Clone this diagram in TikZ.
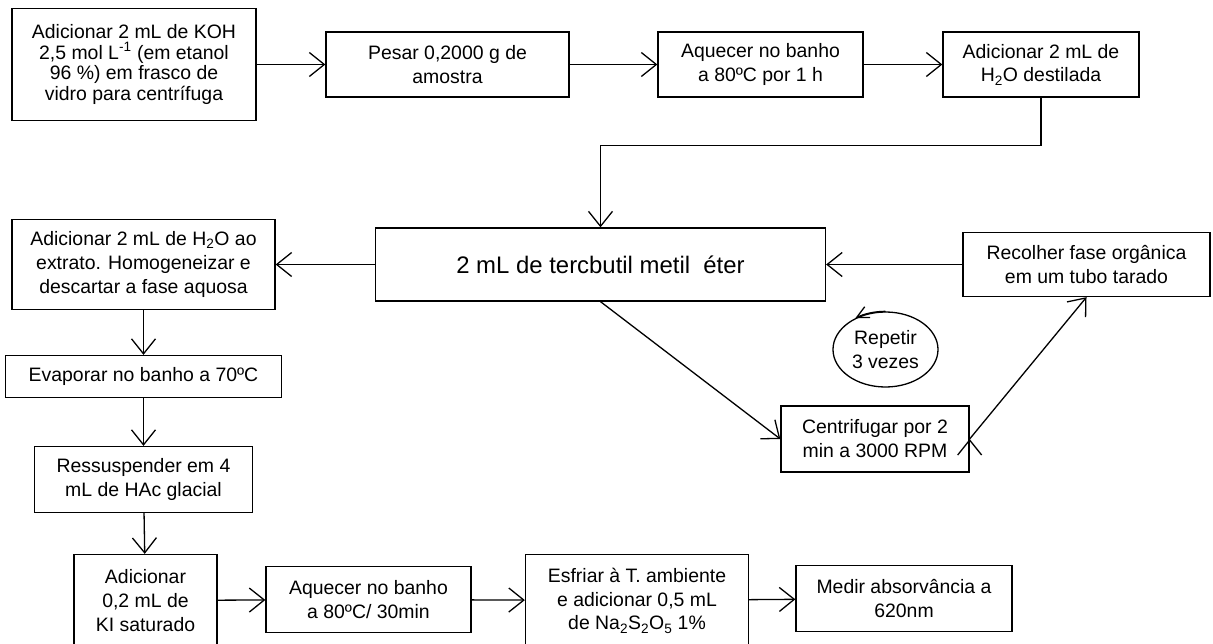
\documentclass[tikz,border=0pt]{standalone}
\usepackage{fontspec}
\setmainfont{Liberation Sans}
\usetikzlibrary{positioning, arrows.meta, shapes.geometric}
\tikzset{
	->, % todas as ligacoes com seta
	>={Straight Barb[length=15bp,width=24bp]}, % ponta aberta, como no fluxograma
	every path/.style={line width=1.3bp}, % espessura das linhas
	caixa/.style={draw, align=center, inner sep=2bp, font=\fontsize{19.5}{24}\selectfont}, % etapas
	laco/.style={draw, ellipse, align=center, inner sep=0bp, font=\fontsize{19.5}{24}\selectfont} % repeticao
}

\begin{document}
\begin{tikzpicture}[x=1bp, y=-1bp, line width=1.3bp]
	\useasboundingbox (0,0) rectangle (1213,644);
	% linha de cima
	\node[caixa, minimum width=244bp, minimum height=112bp, font=\fontsize{19.5}{20.5}\selectfont] (koh) at (134,64.5) {Adicionar 2 mL de KOH\\2,5 mol L\textsuperscript{-1} (em etanol\\96 \%) em frasco de\\vidro para centrífuga};
	\node[caixa, minimum width=243bp, minimum height=65bp, right of=koh, node distance=313.5bp] (pesar) {Pesar 0,2000 g de\\amostra};
	\node[caixa, minimum width=205bp, minimum height=65bp, right of=pesar, node distance=313bp] (aq1) {Aquecer no banho\\a 80ºC por 1 h};
	\node[caixa, minimum width=196bp, minimum height=65bp, right of=aq1, node distance=280.5bp] (h2o) {Adicionar 2 mL de\\H\textsubscript{2}O destilada};
	% extracao
	\node[caixa, minimum width=450bp, minimum height=73bp, font=\fontsize{24}{28}\selectfont] (eter) at (600.5,264.5) {2 mL de tercbutil metil~~éter};
	\node[caixa, minimum width=263bp, minimum height=90bp, left of=eter, node distance=457bp] (extr) {Adicionar 2 mL de H\textsubscript{2}O ao\\extrato. Homogeneizar e\\descartar a fase aquosa};
	\node[caixa, minimum width=247bp, minimum height=64bp, right of=eter, node distance=486bp] (rec) {Recolher fase orgânica\\em um tubo tarado};
	\node[laco, minimum width=105bp, minimum height=75bp] (rep) at (885.5,349.5) {Repetir\\3 vezes};
	\node[caixa, minimum width=188bp, minimum height=66bp] (cent) at (875,439) {Centrifugar por 2\\min a 3000 RPM};
	% coluna da esquerda
	\node[caixa, minimum width=276bp, minimum height=42bp, below of=extr, node distance=112bp] (evap) {Evaporar no banho a 70ºC};
	\node[caixa, minimum width=218bp, minimum height=66bp, below of=evap, node distance=103bp] (ress) {Ressuspender em 4\\mL de HAc glacial};
	\node[caixa, minimum width=143bp, minimum height=92bp, below of=ress, node distance=121bp, xshift=2bp] (ki) {Adicionar\\0,2 mL de\\KI saturado};
	% linha de baixo
	\node[caixa, minimum width=205bp, minimum height=66bp, right of=ki, node distance=223bp, yshift=1bp] (aq2) {Aquecer no banho\\a 80ºC/ 30min};
	\node[caixa, minimum width=223bp, minimum height=92bp, right of=aq2, node distance=268.5bp, yshift=-1bp] (esf) {Esfriar à T. ambiente\\e adicionar 0,5 mL\\de Na\textsubscript{2}S\textsubscript{2}O\textsubscript{5} 1\%};
	\node[caixa, minimum width=216bp, minimum height=66bp, right of=esf, node distance=267bp, yshift=2bp] (med) {Medir absorvância a\\620nm};
	\draw	(koh) edge (pesar)
			(pesar) edge (aq1)
			(aq1) edge (h2o)
			(eter) edge (extr)
			(rec) edge (eter)
			(eter.south) edge (cent.west)
			(cent.east) edge (rec.south)
			(extr) edge (evap)
			(evap) edge (ress)
			(ress) edge (ki)
			(ki) edge (aq2)
			(aq2) edge (esf)
			(esf) edge (med)
			;
	\draw (h2o.south) -- ++(0,48) -| (eter.north);
	\draw[-{Straight Barb[length=12bp,width=12bp]}] (rep.north) arc[start angle=90, end angle=125, x radius=52.5bp, y radius=37.5bp];
\end{tikzpicture}
\end{document}
